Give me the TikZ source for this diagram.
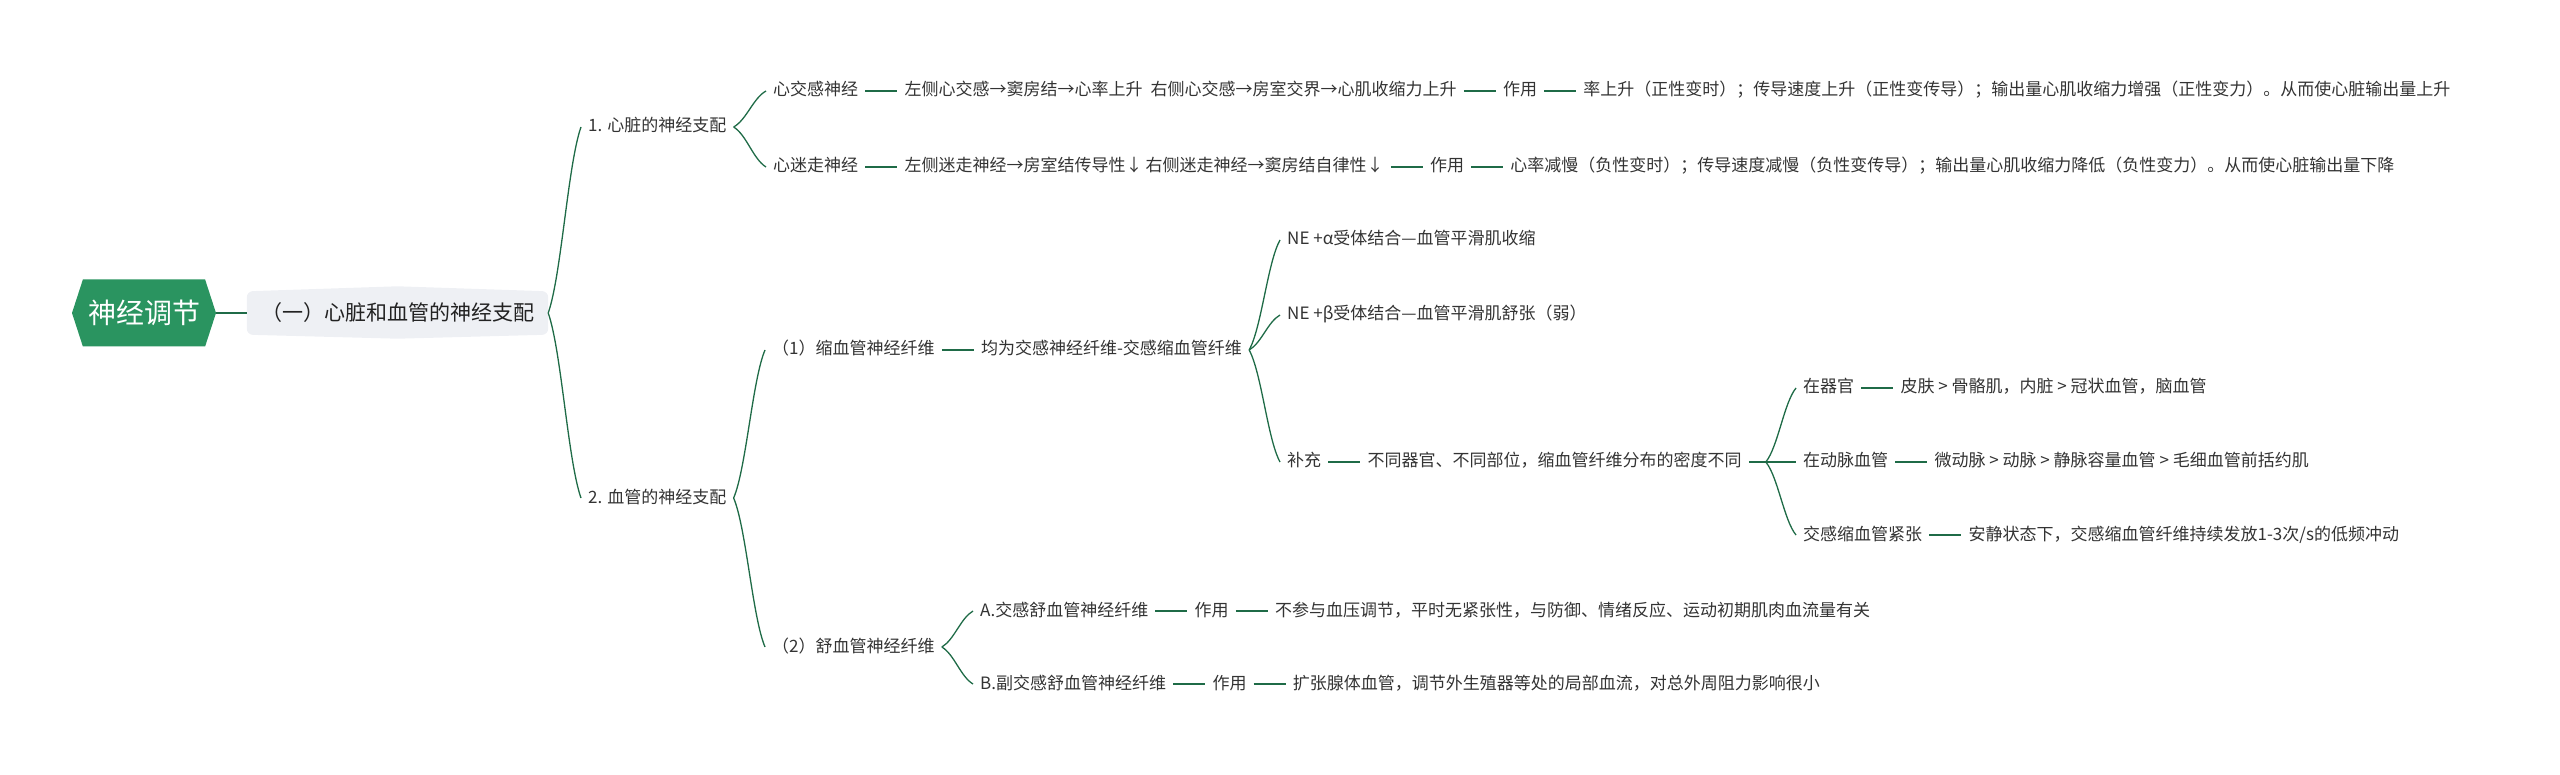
\documentclass[tikz,border=0pt]{standalone}
\usepackage{fontspec}
\setmainfont{Noto Sans CJK SC}
\usetikzlibrary{positioning,calc,shapes.symbols,backgrounds}
\definecolor{rootc}{HTML}{2A9460}
\definecolor{lnc}{HTML}{1F6B47}
\definecolor{boxc}{HTML}{EEF0F4}
\definecolor{txtc}{HTML}{333333}
\definecolor{txtd}{HTML}{222222}
\begin{document}
\begin{tikzpicture}[x=1pt,y=-1pt,
  txt/.style={font=\fontsize{17pt}{20pt}\selectfont, text=txtc, inner xsep=7pt, inner ysep=2pt, text height=14pt, text depth=4pt, anchor=west},
  nxt/.style={txt, right=32pt of #1},
  ln/.style={draw=lnc, line width=1.6pt},
  brc/.style={draw=lnc, line width=1.3pt, to path={let \p1=(\tikztostart), \p2=(\tikztotarget) in .. controls ({\x1+0.4*(\x2-\x1)},{\y1+0.2*(\y2-\y1)}) and ({\x1+0.6*(\x2-\x1)},{\y1+0.8*(\y2-\y1)}) .. (\tikztotarget)}},
  lvl2/.style={font=\fontsize{21pt}{24pt}\selectfont, text=txtd, minimum width=301pt, minimum height=43pt, inner sep=0pt},
  rootn/.style={signal, signal to=west and east, signal pointer angle=144, fill=rootc, draw=none, minimum width=144pt, minimum height=67pt, inner sep=0pt, font=\fontsize{28pt}{32pt}\selectfont, text=white}
]
\useasboundingbox (0,0) rectangle (2560,775);

% root and level 2
\node[rootn] (root) at (144,313) {神经调节};
\node[lvl2] (l2) at (397.5,313) {（一）心脏和血管的神经支配};
\begin{scope}[on background layer]
\fill[boxc, rounded corners=6pt] (l2.north west) -- ($(l2.north)+(0,-5)$) -- (l2.north east) -- (l2.south east) -- ($(l2.south)+(0,4)$) -- (l2.south west) -- cycle;
\end{scope}
\draw[ln, line width=2pt] (root.east) -- (l2.west);

% level 3
\node[txt] (n1) at (581,127) {1. 心脏的神经支配};
\node[txt] (n2) at (581,498) {2. 血管的神经支配};
\draw[brc] (l2.east) to (n1.west);
\draw[brc] (l2.east) to (n2.west);

% heart
\node[txt] (a1) at (766,91) {心交感神经};
\node[txt] (a2) at (766,167) {心迷走神经};
\draw[brc] (n1.east) to (a1.west);
\draw[brc] (n1.east) to (a2.west);

\node[nxt=a1] (a1b) {左侧心交感→窦房结→心率上升\hspace{8pt}右侧心交感→房室交界→心肌收缩力上升};
\node[nxt=a1b] (a1c) {作用};
\node[nxt=a1c] (a1d) {率上升（正性变时）；传导速度上升（正性变传导）；输出量心肌收缩力增强（正性变力）。从而使心脏输出量上升};
\draw[ln] (a1.east) -- (a1b.west);
\draw[ln] (a1b.east) -- (a1c.west);
\draw[ln] (a1c.east) -- (a1d.west);

\node[nxt=a2] (a2b) {左侧迷走神经→房室结传导性↓\hspace{3pt}右侧迷走神经→窦房结自律性↓};
\node[nxt=a2b] (a2c) {作用};
\node[nxt=a2c] (a2d) {心率减慢（负性变时）；传导速度减慢（负性变传导）；输出量心肌收缩力降低（负性变力）。从而使心脏输出量下降};
\draw[ln] (a2.east) -- (a2b.west);
\draw[ln] (a2b.east) -- (a2c.west);
\draw[ln] (a2c.east) -- (a2d.west);

% vessels
\node[txt] (b1) at (765,350) {（1）缩血管神经纤维};
\node[txt] (b2) at (765,647) {（2）舒血管神经纤维};
\draw[brc] (n2.east) to (b1.west);
\draw[brc] (n2.east) to (b2.west);

\node[nxt=b1] (c1) {均为交感神经纤维-交感缩血管纤维};
\draw[ln] (b1.east) -- (c1.west);

\node[txt] (d1) at (1280,240) {NE +α受体结合—血管平滑肌收缩};
\node[txt] (d2) at (1280,315) {NE +β受体结合—血管平滑肌舒张（弱）};
\node[txt] (d3) at (1280,462) {补充};
\draw[brc] (c1.east) to (d1.west);
\draw[brc] (c1.east) to (d2.west);
\draw[brc] (c1.east) to (d3.west);

\node[nxt=d3] (d3b) {不同器官、不同部位，缩血管纤维分布的密度不同};
\draw[ln] (d3.east) -- (d3b.west);
\coordinate (d3t) at ([xshift=17pt]d3b.east);

\node[txt] (f1) at (1796,388) {在器官};
\node[txt] (f2) at (1796,462) {在动脉血管};
\node[txt] (f3) at (1796,535) {交感缩血管紧张};
\draw[ln] (d3b.east) -- (d3t);
\draw[brc] (d3t) to (f1.west);
\draw[brc] (d3t) to (f2.west);
\draw[brc] (d3t) to (f3.west);

\node[nxt=f1] (f1b) {皮肤 > 骨骼肌，内脏 > 冠状血管，脑血管};
\node[nxt=f2] (f2b) {微动脉 > 动脉 > 静脉容量血管 > 毛细血管前括约肌};
\node[nxt=f3] (f3b) {安静状态下，交感缩血管纤维持续发放1-3次/s的低频冲动};
\draw[ln] (f1.east) -- (f1b.west);
\draw[ln] (f2.east) -- (f2b.west);
\draw[ln] (f3.east) -- (f3b.west);

\node[txt] (g1) at (973,611) {A.交感舒血管神经纤维};
\node[txt] (g2) at (973,684) {B.副交感舒血管神经纤维};
\draw[brc] (b2.east) to (g1.west);
\draw[brc] (b2.east) to (g2.west);

\node[nxt=g1] (g1b) {作用};
\node[nxt=g1b] (g1c) {不参与血压调节，平时无紧张性，与防御、情绪反应、运动初期肌肉血流量有关};
\draw[ln] (g1.east) -- (g1b.west);
\draw[ln] (g1b.east) -- (g1c.west);

\node[nxt=g2] (g2b) {作用};
\node[nxt=g2b] (g2c) {扩张腺体血管，调节外生殖器等处的局部血流，对总外周阻力影响很小};
\draw[ln] (g2.east) -- (g2b.west);
\draw[ln] (g2b.east) -- (g2c.west);
\end{tikzpicture}
\end{document}
